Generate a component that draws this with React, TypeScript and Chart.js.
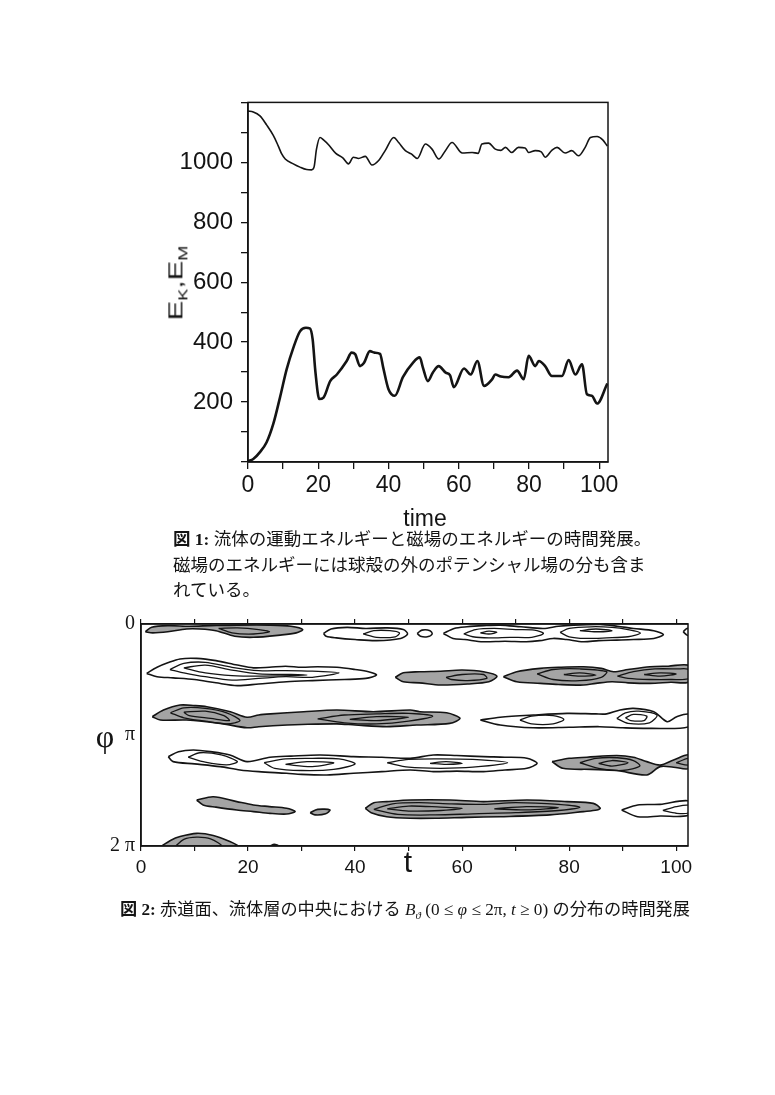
import React, { useEffect, useRef } from 'react';
import { Chart, registerables } from 'chart.js';

Chart.register(...registerables);

// ---------- Figure 1: energies vs time ----------
const timeK = [0, 1.5, 3.4, 5.3, 7.2, 8.6, 9.6, 10.6, 12.9, 14.8, 16.7, 18.1, 18.8, 19.5, 20.5, 21.5, 23, 25, 27, 28.6, 30, 31.5, 33.4, 35.3, 37.2, 39.1, 41.5, 42.9, 44.8, 46.5, 48.2, 50.5, 52.4, 54.3, 56.2, 58.1, 61, 63.8, 65.5, 66.6, 68.5, 70.4, 72, 73.3, 75.1, 77, 78.9, 79.9, 81.8, 83.5, 84.6, 86.5, 88, 90.3, 92.2, 94.1, 96, 97.5, 99.4, 101, 102.3];
const energyK = [1171, 1168, 1155, 1125, 1090, 1055, 1028, 1011, 995, 984, 976, 975, 984, 1044, 1083, 1075, 1058, 1030, 1015, 995, 1017, 1013, 1020, 991, 1006, 1040, 1083, 1066, 1039, 1028, 1013, 1061, 1044, 1011, 1039, 1066, 1031, 1033, 1030, 1061, 1064, 1044, 1040, 1050, 1033, 1050, 1048, 1033, 1039, 1035, 1017, 1040, 1050, 1031, 1039, 1022, 1050, 1083, 1086, 1075, 1054];

const timeM = [0, 1.5, 3.4, 5.3, 7.2, 9.1, 11, 12.9, 14.8, 16.5, 17.6, 18.4, 19.2, 20.3, 21.5, 23.4, 25.3, 28.1, 29.5, 30.5, 31.9, 33, 34.7, 36, 37.6, 38.5, 40, 41.8, 44.1, 47, 48.9, 49.8, 51.2, 52.6, 54.3, 56.3, 57.5, 58.6, 61.5, 63.4, 65.3, 67.2, 69.5, 70.4, 72, 74.2, 76.6, 78.5, 79.9, 81.8, 82.8, 84.6, 86.5, 89.4, 91.3, 93.2, 95.1, 96.5, 97.9, 99.4, 102.3];
const energyM = [3, 10, 33, 66, 127, 215, 309, 381, 436, 448, 446, 410, 300, 210, 215, 270, 292, 337, 365, 360, 320, 330, 370, 365, 361, 315, 243, 221, 283, 332, 349, 315, 270, 298, 320, 298, 290, 250, 312, 292, 337, 254, 276, 292, 285, 283, 305, 276, 354, 320, 337, 320, 287, 287, 340, 292, 326, 226, 221, 195, 262];

const energyTickLabels = [200, 400, 600, 800, 1000];
const timeTickLabels = [0, 20, 40, 60, 80, 100];

// ---------- Figure 2: contour regions of B_theta, points are [t, phi/pi] ----------
const phiTickLabels = ['0', 'π', '2 π'];

const grayA = [[0.8, 0.07], [2, 0.03], [5, 0.015], [9, 0.02], [13, 0.015], [18, 0.01], [24, 0.01], [28, 0.02], [30.2, 0.05], [29, 0.08], [26, 0.1], [21, 0.12], [17.5, 0.11], [14, 0.06], [11, 0.045], [8.5, 0.045], [5, 0.07], [2.2, 0.08]];
const grayE = [[47.5, 0.48], [49, 0.44], [52, 0.43], [56, 0.425], [60, 0.415], [64, 0.43], [66.5, 0.47], [65, 0.52], [61, 0.54], [56, 0.55], [52, 0.53], [49, 0.52]];
const grayF = [[67.7, 0.475], [70.2, 0.43], [74.6, 0.4], [78, 0.39], [82.7, 0.385], [86, 0.4], [88.3, 0.43], [91, 0.41], [95.1, 0.385], [98.5, 0.38], [102.4, 0.375], [102.4, 0.52], [99, 0.525], [95.1, 0.535], [91, 0.53], [88, 0.52], [85, 0.535], [82.7, 0.55], [78, 0.545], [74.6, 0.535], [70.2, 0.52]];
const grayG = [[2.1, 0.835], [4.2, 0.775], [7.3, 0.73], [10, 0.735], [12.3, 0.745], [16.7, 0.79], [19.8, 0.84], [22, 0.82], [24.2, 0.81], [30.4, 0.79], [36.6, 0.775], [43.4, 0.79], [50.3, 0.775], [52.1, 0.79], [57.1, 0.8], [59.6, 0.85], [57.7, 0.895], [51.5, 0.91], [45.9, 0.925], [40, 0.91], [36.6, 0.9], [30, 0.905], [27.3, 0.91], [22, 0.925], [19.8, 0.935], [14.8, 0.895], [8.5, 0.865], [3.6, 0.865]];
const grayJ = [[76.8, 1.24], [80, 1.21], [83.3, 1.2], [88.9, 1.185], [92, 1.2], [94.5, 1.24], [97, 1.27], [99.5, 1.225], [102.4, 1.18], [102.4, 1.3], [99.5, 1.29], [97, 1.285], [94.5, 1.36], [88.9, 1.32], [84, 1.31], [78.8, 1.3]];
const grayK = [[10.4, 1.586], [13.5, 1.556], [17.9, 1.6], [21, 1.63], [24, 1.645], [27.2, 1.66], [28.8, 1.69], [27.2, 1.712], [24.1, 1.706], [21, 1.69], [17.9, 1.676], [14, 1.65], [11.6, 1.63]];
const grayL = [[31.6, 1.7], [33, 1.67], [35.3, 1.675], [34.5, 1.71], [32.5, 1.72]];
const grayM = [[41.9, 1.66], [43.5, 1.61], [45.9, 1.6], [50.3, 1.586], [57.8, 1.586], [64, 1.6], [72.1, 1.586], [79.6, 1.6], [84.5, 1.616], [85.8, 1.66], [85.2, 1.676], [82.7, 1.69], [76.4, 1.72], [67.1, 1.736], [60.9, 1.742], [55, 1.75], [50.3, 1.75], [45.9, 1.736], [43, 1.7]];
const grayO = [[3.9, 2.0], [5.5, 1.95], [7.3, 1.915], [10.4, 1.886], [13.5, 1.905], [16.6, 1.96], [18, 2.0]];
const grayP = [[24.1, 2.0], [24.9, 1.985], [25.7, 2.0]];

const whiteB = [[34.1, 0.085], [35.5, 0.045], [38.5, 0.03], [42, 0.04], [46, 0.035], [49, 0.05], [49.8, 0.09], [48.5, 0.13], [44, 0.15], [40, 0.14], [36.5, 0.125], [34.6, 0.11]];
const whiteB2 = [[51.6, 0.085], [52.5, 0.055], [54, 0.06], [54.4, 0.09], [53.5, 0.115], [52.2, 0.11]];
const whiteC = [[56.5, 0.085], [58.5, 0.04], [60.9, 0.025], [64, 0.015], [67.1, 0.01], [71, 0.025], [75.2, 0.04], [78, 0.02], [80.8, 0.01], [85.8, 0.005], [89, 0.02], [92, 0.04], [95.8, 0.06], [97.6, 0.095], [95.8, 0.13], [92, 0.14], [88.9, 0.145], [85.5, 0.15], [82.6, 0.16], [79.5, 0.14], [77, 0.13], [74.5, 0.15], [72, 0.16], [68, 0.155], [63.9, 0.16], [60.5, 0.14], [58.3, 0.13]];
const whiteC2 = [[101.3, 0.07], [102, 0.04], [102.6, 0.05], [102.6, 0.1], [102, 0.1]];
const whiteD = [[1.06, 0.445], [3, 0.39], [5, 0.35], [7.3, 0.315], [10.4, 0.31], [14, 0.33], [18, 0.37], [21, 0.395], [24, 0.39], [27, 0.38], [30, 0.39], [33, 0.385], [36.6, 0.39], [40, 0.41], [42.5, 0.43], [44, 0.46], [42, 0.49], [38, 0.5], [32, 0.51], [27.2, 0.52], [22, 0.54], [18, 0.555], [14, 0.53], [10, 0.5], [6, 0.485], [3, 0.475]];
const whiteH = [[63.4, 0.865], [67.1, 0.84], [73.3, 0.82], [79.6, 0.805], [85, 0.81], [87, 0.81], [89.5, 0.775], [92, 0.76], [95.8, 0.79], [98.3, 0.88], [100.1, 0.835], [102.4, 0.815], [102.4, 0.925], [95.1, 0.94], [90, 0.935], [85.7, 0.925], [80, 0.93], [73.3, 0.935], [67.1, 0.91]];
const whiteI = [[5.1, 1.195], [7, 1.15], [9.8, 1.135], [13, 1.15], [16.6, 1.18], [19.8, 1.24], [24.1, 1.2], [28, 1.19], [33.5, 1.18], [39.7, 1.195], [45, 1.2], [50.3, 1.21], [54.6, 1.18], [59, 1.185], [64, 1.195], [68, 1.2], [72.1, 1.21], [74, 1.255], [72.1, 1.3], [68, 1.315], [64, 1.33], [59, 1.325], [54.6, 1.33], [50.3, 1.315], [45, 1.33], [39.7, 1.345], [34.7, 1.36], [30, 1.355], [27.2, 1.345], [22, 1.33], [18.5, 1.315], [14.8, 1.285], [10, 1.26], [6, 1.24]];
const whiteN = [[89.8, 1.676], [92.8, 1.63], [97, 1.625], [102.4, 1.595], [102.4, 1.72], [97, 1.73], [92.8, 1.736]];

const innerA = [[14.5, 0.04], [18, 0.035], [22, 0.05], [24, 0.07], [21, 0.09], [17, 0.08]];
const innerB = [[41.5, 0.09], [43.5, 0.06], [46.5, 0.06], [48.3, 0.08], [47.5, 0.115], [44, 0.12]];
const innerC1 = [[60.3, 0.09], [62.5, 0.05], [66, 0.04], [70, 0.05], [73.5, 0.055], [75.2, 0.085], [73, 0.12], [69, 0.12], [65, 0.125], [62, 0.115]];
const innerC1b = [[63.4, 0.08], [65, 0.065], [66.5, 0.075], [65, 0.09]];
const innerC2 = [[78.3, 0.075], [80, 0.04], [84, 0.025], [88, 0.03], [91, 0.05], [93.3, 0.08], [91, 0.115], [87, 0.125], [83, 0.13], [80, 0.115]];
const innerC2b = [[82, 0.06], [85, 0.045], [88, 0.06], [85, 0.07]];
const innerD1 = [[5.4, 0.41], [8, 0.355], [12, 0.345], [17, 0.39], [22, 0.42], [27, 0.42], [32, 0.425], [37, 0.44], [32, 0.48], [27, 0.475], [22, 0.49], [17, 0.505], [12, 0.475], [8, 0.44]];
const innerD2 = [[8, 0.395], [12, 0.37], [17, 0.415], [22, 0.45], [28, 0.455], [31, 0.46], [28, 0.465], [22, 0.47], [17, 0.465], [12, 0.44]];
const innerE = [[57, 0.48], [60, 0.455], [64, 0.455], [64.6, 0.49], [61, 0.51], [58, 0.5]];
const innerF1 = [[74, 0.45], [77, 0.41], [82, 0.405], [87, 0.43], [86, 0.48], [82, 0.51], [77, 0.5]];
const innerF1b = [[79, 0.455], [82, 0.44], [85, 0.46], [82, 0.47]];
const innerF2 = [[89, 0.47], [92, 0.43], [96, 0.405], [100, 0.405], [102.4, 0.41], [102.4, 0.49], [99, 0.5], [95, 0.5], [91, 0.49]];
const innerF2b = [[94, 0.455], [97, 0.44], [100, 0.45], [97, 0.47]];
const innerG1 = [[5.5, 0.8], [8, 0.755], [12, 0.76], [16, 0.8], [18.5, 0.87], [16, 0.9], [12, 0.875], [8, 0.845]];
const innerG1b = [[8, 0.795], [12, 0.785], [15.5, 0.825], [16.5, 0.87], [13, 0.85], [9, 0.825]];
const innerG2 = [[33, 0.855], [38, 0.82], [44, 0.81], [50, 0.805], [54.5, 0.83], [50, 0.875], [44, 0.9], [38, 0.89]];
const innerG2b = [[39, 0.86], [44, 0.835], [50, 0.84], [44, 0.87]];
const innerH1 = [[70.8, 0.865], [73, 0.83], [77, 0.825], [79, 0.86], [77, 0.9], [73, 0.9]];
const innerH2 = [[88.9, 0.85], [90.5, 0.8], [93, 0.785], [96.4, 0.82], [95, 0.89], [91, 0.895]];
const innerH2b = [[90.5, 0.845], [92, 0.815], [94.5, 0.83], [94, 0.87], [91.5, 0.87]];
const innerI1 = [[8.8, 1.2], [11, 1.16], [15, 1.18], [18, 1.24], [16, 1.27], [12, 1.245]];
const innerI2 = [[23, 1.25], [27, 1.215], [32, 1.21], [37, 1.215], [40, 1.26], [36, 1.31], [30, 1.32], [25, 1.3]];
const innerI2b = [[27, 1.265], [31, 1.24], [36, 1.25], [32, 1.285]];
const innerI3 = [[46, 1.25], [50, 1.22], [56, 1.215], [62, 1.22], [68.5, 1.25], [62, 1.29], [56, 1.3], [50, 1.29]];
const innerI3b = [[54, 1.255], [57, 1.24], [60, 1.255], [57, 1.265]];
const innerJ1 = [[82, 1.25], [85, 1.21], [89, 1.205], [92, 1.23], [93.2, 1.28], [90, 1.32], [86, 1.305]];
const innerJ1b = [[85.5, 1.255], [88, 1.23], [91, 1.25], [88, 1.28]];
const innerJ2 = [[100, 1.25], [102.4, 1.21], [102.4, 1.27]];
const innerM1 = [[43.5, 1.67], [47, 1.62], [52, 1.61], [58, 1.62], [64, 1.625], [70, 1.61], [78, 1.625], [82, 1.65], [78, 1.68], [70, 1.7], [62, 1.71], [55, 1.72], [48, 1.715]];
const innerM2 = [[46, 1.665], [50, 1.64], [56, 1.65], [60, 1.66], [56, 1.68], [50, 1.685]];
const innerM3 = [[66, 1.665], [72, 1.645], [78, 1.655], [72, 1.675]];
const innerN = [[97.5, 1.68], [100, 1.645], [102.4, 1.635], [102.4, 1.7], [100, 1.705]];
const innerO = [[6.5, 2.0], [8, 1.94], [10.4, 1.92], [13, 1.935], [15, 2.0]];

const grayShapes = [grayA, grayE, grayF, grayG, grayJ, grayK, grayL, grayM, grayO, grayP];
const whiteShapes = [whiteB, whiteB2, whiteC, whiteC2, whiteD, whiteH, whiteI, whiteN];
const innerLoops = [innerA, innerB, innerC1, innerC1b, innerC2, innerC2b, innerD1, innerD2, innerE, innerF1, innerF1b, innerF2, innerF2b, innerG1, innerG1b, innerG2, innerG2b, innerH1, innerH2, innerH2b, innerI1, innerI2, innerI2b, innerI3, innerI3b, innerJ1, innerJ1b, innerJ2, innerM1, innerM2, innerM3, innerN, innerO];

// ---------- helpers ----------
const INK = '#141414';
const SANS = "'Liberation Sans', Arial, Helvetica, sans-serif";
const SERIF = "'Liberation Serif', 'Times New Roman', serif";

const framePlugin = {
  id: 'frame',
  afterDraw(chart: any) {
    const { ctx, chartArea } = chart;
    const { left, top, right, bottom } = chartArea;
    ctx.save();
    ctx.strokeStyle = INK;
    ctx.lineWidth = 1.5;
    ctx.strokeRect(left, top, right - left, bottom - top);
    ctx.restore();
  },
};

const closed = (poly: number[][]) => [...poly, poly[0]].map(([x, y]) => ({ x, y }));

export default function App() {
  const topRef = useRef<HTMLCanvasElement | null>(null);
  const botRef = useRef<HTMLCanvasElement | null>(null);

  useEffect(() => {
    const top = new Chart(topRef.current as HTMLCanvasElement, {
      type: 'line',
      data: {
        datasets: [
          {
            label: 'E_K',
            data: timeK.map((t, i) => ({ x: t, y: energyK[i] })),
            borderColor: INK,
            borderWidth: 1.6,
            pointRadius: 0,
            cubicInterpolationMode: 'monotone',
            fill: false,
          },
          {
            label: 'E_M',
            data: timeM.map((t, i) => ({ x: t, y: energyM[i] })),
            borderColor: INK,
            borderWidth: 2.6,
            pointRadius: 0,
            cubicInterpolationMode: 'monotone',
            fill: false,
          },
        ],
      },
      options: {
        animation: false,
        responsive: false,
        devicePixelRatio: 1,
        layout: { padding: { left: 0, top: 20, right: 32, bottom: 28 } },
        plugins: { legend: { display: false }, tooltip: { enabled: false } },
        scales: {
          x: {
            type: 'linear',
            min: 0,
            max: 102.5,
            afterFit: (s: any) => { s.height = 60; },
            border: { display: true, color: INK, width: 1.5 },
            grid: { drawOnChartArea: false, drawTicks: true, tickLength: 7, color: INK, lineWidth: 1.3 },
            ticks: {
              stepSize: 10,
              includeBounds: false,
              autoSkip: false,
              maxRotation: 0,
              padding: 3,
              color: INK,
              font: { family: SANS, size: 23 },
              callback: (v: any) => (timeTickLabels.includes(Math.round(v)) ? String(Math.round(v)) : ''),
            },
          },
          y: {
            type: 'linear',
            min: 0,
            max: 1200,
            afterFit: (s: any) => { s.width = 148; },
            border: { display: true, color: INK, width: 1.5 },
            grid: { drawOnChartArea: false, drawTicks: true, tickLength: 7, color: INK, lineWidth: 1.3 },
            ticks: {
              stepSize: 100,
              includeBounds: false,
              autoSkip: false,
              padding: 8,
              color: INK,
              font: { family: SANS, size: 24 },
              callback: (v: any) => (energyTickLabels.includes(Math.round(v)) ? String(Math.round(v)) : ''),
            },
          },
        },
      },
      plugins: [framePlugin],
    } as any);

    const datasets: any[] = [];
    innerLoops.forEach((p) => datasets.push({
      data: closed(p), borderColor: INK, borderWidth: 1.3, pointRadius: 0, tension: 0.3, fill: false, order: 1,
    }));
    grayShapes.forEach((p) => datasets.push({
      data: closed(p), borderColor: INK, backgroundColor: '#a4a4a4', borderWidth: 1.6, pointRadius: 0, tension: 0.3, fill: 'shape', order: 2,
    }));
    whiteShapes.forEach((p) => datasets.push({
      data: closed(p), borderColor: INK, borderWidth: 1.6, pointRadius: 0, tension: 0.3, fill: false, order: 2,
    }));

    const bot = new Chart(botRef.current as HTMLCanvasElement, {
      type: 'line',
      data: { datasets },
      options: {
        animation: false,
        responsive: false,
        devicePixelRatio: 1,
        layout: { padding: { left: 0, top: 14, right: 22, bottom: 10 } },
        plugins: { legend: { display: false }, tooltip: { enabled: false } },
        scales: {
          x: {
            type: 'linear',
            position: 'bottom',
            min: 0,
            max: 102.2,
            afterFit: (s: any) => { s.height = 34; },
            border: { display: true, color: INK, width: 1.5 },
            grid: { drawOnChartArea: false, drawTicks: true, tickLength: 5, color: INK, lineWidth: 1.2 },
            ticks: {
              stepSize: 10,
              includeBounds: false,
              autoSkip: false,
              maxRotation: 0,
              padding: 5,
              color: INK,
              font: { family: SANS, size: 19 },
              callback: (v: any) => (timeTickLabels.includes(Math.round(v)) ? String(Math.round(v)) : ''),
            },
          },
          x2: {
            type: 'linear',
            position: 'top',
            min: 0,
            max: 102.2,
            afterFit: (s: any) => { s.height = 10; },
            border: { display: true, color: INK, width: 1.5 },
            grid: { drawOnChartArea: false, drawTicks: true, tickLength: 5, color: INK, lineWidth: 1.2 },
            ticks: { display: false, stepSize: 10, includeBounds: false, autoSkip: false },
          },
          y: {
            type: 'linear',
            min: 0,
            max: 2,
            reverse: true,
            afterFit: (s: any) => { s.width = 101; },
            border: { display: true, color: INK, width: 1.5 },
            grid: { drawOnChartArea: false, drawTicks: false },
            ticks: {
              stepSize: 1,
              includeBounds: false,
              autoSkip: false,
              padding: 6,
              color: INK,
              font: { family: SERIF, size: 20 },
              callback: (v: any) => phiTickLabels[Math.round(v)] ?? '',
            },
          },
        },
      },
      plugins: [framePlugin],
    } as any);

    return () => {
      top.destroy();
      bot.destroy();
    };
  }, []);

  const abs = (x: number, y: number, extra: any = {}) => ({
    position: 'absolute' as const,
    left: x,
    top: y,
    transform: 'translate(-50%, -50%)',
    whiteSpace: 'nowrap' as const,
    lineHeight: 1,
    color: INK,
    ...extra,
  });

  return (
    <div style={{ position: 'absolute', left: 0, top: 0, width: 775, height: 1095, background: '#fff', overflow: 'hidden' }}>
      <canvas ref={topRef} width={540} height={470} style={{ position: 'absolute', left: 100, top: 80, width: 540, height: 470 }} />
      <div style={abs(177, 283, { fontFamily: SANS, fontSize: 21, transform: 'translate(-50%, -50%) rotate(-90deg) scaleX(1.4)' })}>
        E<sub style={{ fontSize: 13 }}>K</sub>,E<sub style={{ fontSize: 13 }}>M</sub>
      </div>
      <div style={abs(425, 518, { fontFamily: SANS, fontSize: 23 })}>time</div>
      <div style={{ position: 'absolute', left: 173, top: 527, fontFamily: `${SERIF}, 'Noto Sans CJK JP'`, fontSize: 17.5, lineHeight: '25.5px', color: INK, whiteSpace: 'nowrap' }}>
        <div><b>図 1:</b> 流体の運動エネルギーと磁場のエネルギーの時間発展。</div>
        <div>磁場のエネルギーには球殻の外のポテンシャル場の分も含ま</div>
        <div>れている。</div>
      </div>

      <canvas ref={botRef} width={670} height={290} style={{ position: 'absolute', left: 40, top: 600, width: 670, height: 290 }} />
      <div style={abs(105, 736, { fontFamily: SERIF, fontSize: 32 })}>φ</div>
      <div style={abs(408, 862, { fontFamily: SANS, fontSize: 30 })}>t</div>
      <div style={{ position: 'absolute', left: 120, top: 911, transform: 'translateY(-50%)', fontFamily: `${SERIF}, 'Noto Sans CJK JP'`, fontSize: 17.2, lineHeight: 1.2, color: INK, whiteSpace: 'nowrap' }}>
        <b>図 2:</b> 赤道面、流体層の中央における <i>B</i><sub style={{ fontSize: 11 }}><i>ϑ</i></sub> (0 ≤ <i>φ</i> ≤ 2π, <i>t</i> ≥ 0) の分布の時間発展
      </div>
    </div>
  );
}
